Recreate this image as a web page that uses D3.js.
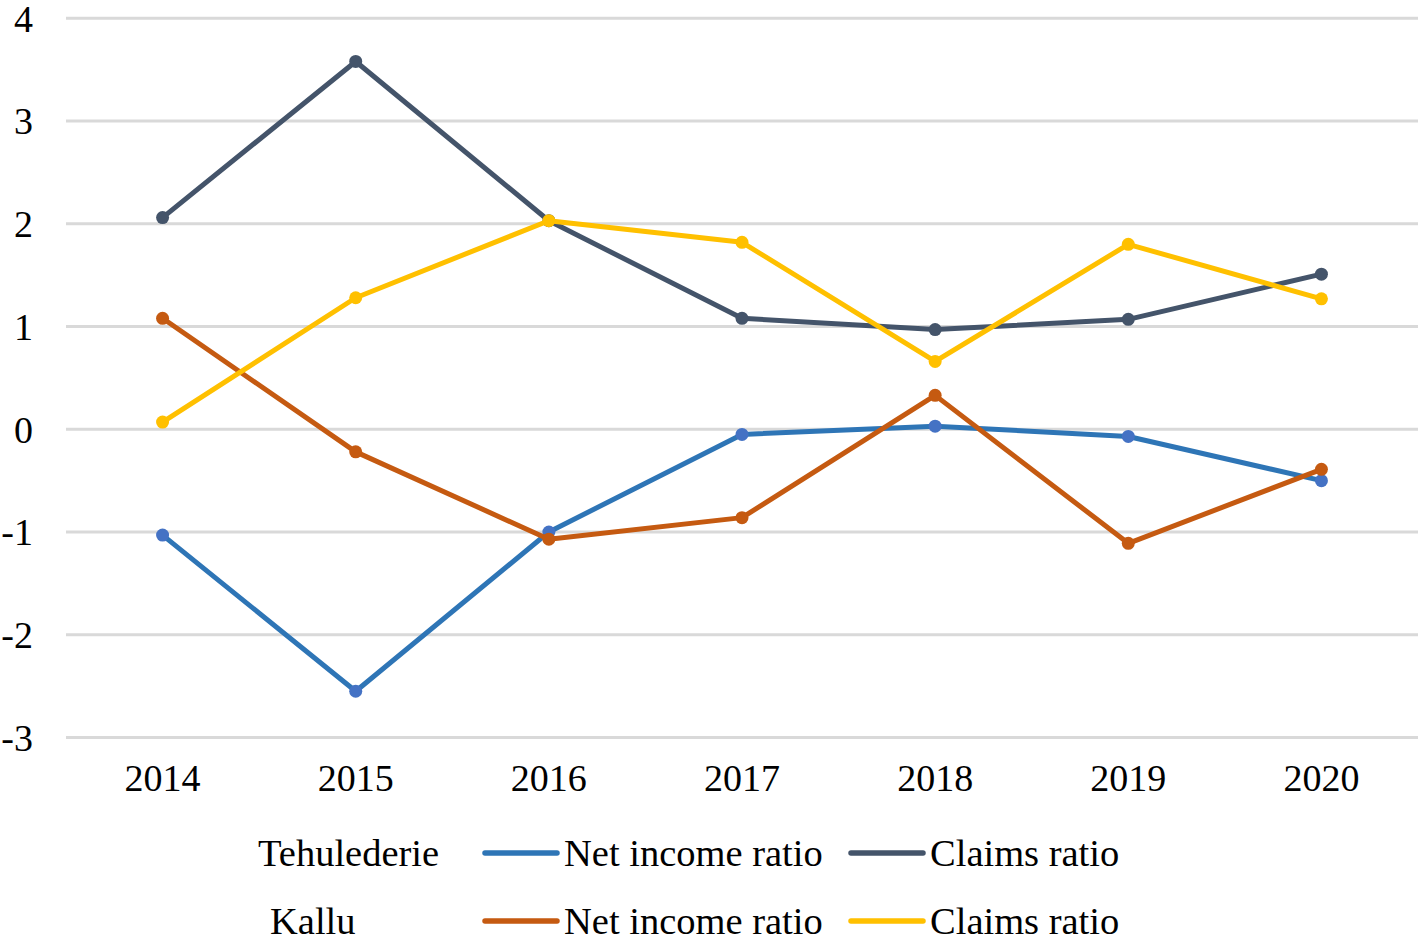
<!DOCTYPE html>
<html><head><meta charset="utf-8">
<script src="https://cdn.jsdelivr.net/npm/d3@7"></script>
<style>body{margin:0;background:#fff;}svg{display:block;}</style>
</head><body>
<svg id="c" width="1423" height="937"></svg>
<script>
const years = ["2014","2015","2016","2017","2018","2019","2020"];
const yTicks = [-3,-2,-1,0,1,2,3,4];
const tehNet = [-1.03,-2.55,-1.00,-0.05,0.03,-0.07,-0.50];
const tehClaims = [2.06,3.58,2.03,1.08,0.97,1.07,1.51];
const kalNet = [1.08,-0.22,-1.07,-0.86,0.33,-1.11,-0.39];
const kalClaims = [0.07,1.28,2.03,1.82,0.66,1.80,1.27];
const groups = ["Tehulederie","Kallu"];
const seriesNames = ["Net income ratio","Claims ratio"];

const series = [
  {g:0, name:seriesNames[0], vals:tehNet, line:"#2E75B6", mark:"#4472C4"},
  {g:0, name:seriesNames[1], vals:tehClaims, line:"#44546A", mark:"#44546A"},
  {g:1, name:seriesNames[0], vals:kalNet, line:"#C55A11", mark:"#C55A11"},
  {g:1, name:seriesNames[1], vals:kalClaims, line:"#FFC000", mark:"#FFC000"}
];

const svg = d3.select("#c");
const font = "'Liberation Serif','Times New Roman',serif";
const x = d3.scaleBand().domain(years).range([66,1418]).padding(0);
const y = d3.scaleLinear().domain([-3,4]).range([737.5,18.3]);

svg.append("g").selectAll("line").data(yTicks).join("line")
  .attr("x1",66).attr("x2",1418)
  .attr("y1",d=>y(d)).attr("y2",d=>y(d))
  .attr("stroke","#d9d9d9").attr("stroke-width",3);

svg.append("g").selectAll("text").data(yTicks).join("text")
  .attr("x",33).attr("y",d=>y(d)).attr("dy","0.35em")
  .attr("text-anchor","end").attr("font-family",font).attr("font-size",38)
  .attr("fill","#000").text(d=>d);

svg.append("g").selectAll("text").data(years).join("text")
  .attr("x",d=>x(d)+x.bandwidth()/2).attr("y",778).attr("dy","0.35em")
  .attr("text-anchor","middle").attr("font-family",font).attr("font-size",38)
  .attr("fill","#000").text(d=>d);

const line = d3.line().x((d,i)=>x(years[i])+x.bandwidth()/2).y(d=>y(d));
series.forEach(s=>{
  svg.append("path").datum(s.vals).attr("d",line)
    .attr("fill","none").attr("stroke",s.line).attr("stroke-width",5)
    .attr("stroke-linejoin","round").attr("stroke-linecap","round");
  svg.append("g").selectAll("circle").data(s.vals).join("circle")
    .attr("cx",(d,i)=>x(years[i])+x.bandwidth()/2).attr("cy",d=>y(d))
    .attr("r",6.5).attr("fill",s.mark);
});

// legend
const rowsY = [853, 921];
const groupX = [258, 270];
groups.forEach((g,gi)=>{
  svg.append("text").attr("x",groupX[gi]).attr("y",rowsY[gi]).attr("dy","0.35em")
    .attr("font-family",font).attr("font-size",38.5).attr("fill","#000").text(g);
});
const lineX = [485, 851];
series.forEach((s,i)=>{
  const r = rowsY[s.g];
  const lx = lineX[i%2];
  svg.append("line").attr("x1",lx).attr("x2",lx+72).attr("y1",r).attr("y2",r)
    .attr("stroke",s.line).attr("stroke-width",5.5).attr("stroke-linecap","round");
  svg.append("text").attr("x",lx+79).attr("y",r).attr("dy","0.35em")
    .attr("font-family",font).attr("font-size",38.5).attr("fill","#000").text(s.name);
});
</script>
</body></html>
